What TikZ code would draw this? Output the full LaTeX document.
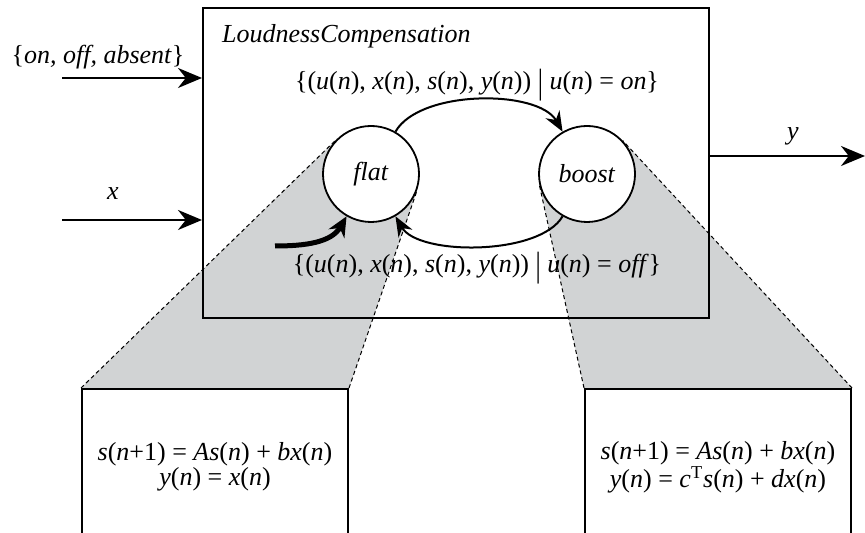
\documentclass[tikz,border=0pt]{standalone}
\usepackage{fontspec}
\setmainfont{Liberation Serif}
\usetikzlibrary{arrows.meta,calc,backgrounds}
\definecolor{wedge}{RGB}{209,211,212}
\newcommand{\iv}[1]{\textit{#1}}
\newcommand{\tallbar}{\raisebox{-0.3ex}{\scalebox{1}[1.35]{|}}}

\begin{document}
\begin{tikzpicture}[x=0.5pt,y=0.5pt,
  font=\fontsize{13}{11.5}\selectfont,
  state/.style={circle, draw=black, fill=white, line width=0.9pt, minimum size=48pt, inner sep=0pt},
  arr/.style={line width=1.2pt, -{Stealth[length=12pt,width=10pt]}},
  trans/.style={line width=1pt, -{Stealth[length=10pt,width=8pt]}},
  eqbox/.style={draw=black, fill=white, line width=1pt, minimum width=133pt, minimum height=78pt, align=center},
  zoomline/.style={line width=0.5pt, dash pattern=on 2pt off 1.5pt}]
\clip (0,0) rectangle (865,533);

% Actor
\node [draw, line width=1pt, minimum width=253pt, minimum height=155pt, inner sep=0pt] (comp) at (456,370) {};
\node [anchor=base west] (title) at (215,490) {\iv{LoudnessCompensation}};

% Estados
\node [state] (flat) at (371,359) {\iv{flat}};
\node [state] (boost) at (587,359) {\iv{boost}};

% Refinamientos
\node [eqbox] (lo) at (215,66) {\iv{s}(\iv{n}+1) = \iv{As}(\iv{n}) + \iv{bx}(\iv{n})\\ \iv{y}(\iv{n}) = \iv{x}(\iv{n})};
\node [eqbox] (ro) at (718,66) {\iv{s}(\iv{n}+1) = \iv{As}(\iv{n}) + \iv{bx}(\iv{n})\\ \iv{y}(\iv{n}) = \iv{c}\textsuperscript{T}\iv{s}(\iv{n}) + \iv{dx}(\iv{n})};

% Cuñas
\coordinate (fa) at (tangent cs:node=flat,point={(lo.north west)},solution=2);
\coordinate (fb) at (tangent cs:node=flat,point={(lo.north east)},solution=1);
\coordinate (ba) at (tangent cs:node=boost,point={(ro.north west)},solution=2);
\coordinate (bb) at (tangent cs:node=boost,point={(ro.north east)},solution=1);
\begin{scope}[on background layer]
\fill [wedge] (lo.north west) -- (fa) -- (flat.center) -- (fb) -- (lo.north east) -- cycle;
\fill [wedge] (ro.north west) -- (ba) -- (boost.center) -- (bb) -- (ro.north east) -- cycle;
\draw [zoomline] (lo.north west) -- (fa);
\draw [zoomline] (lo.north east) -- (fb);
\draw [zoomline] (ro.north west) -- (ba);
\draw [zoomline] (ro.north east) -- (bb);
\end{scope}

% Entradas y salida
\coordinate (uin) at (62,455);
\coordinate (xin) at (62,313);
\coordinate (yout) at (865,377);
\draw [arr] (uin) -- (uin -| comp.west);
\draw [arr] (xin) -- (xin -| comp.west);
\draw [arr] (comp.east |- yout) -- (yout);
\node [anchor=base] (ulab) at (98,469) {\{\iv{on, off, absent}\}};
\node [anchor=base] (xlab) at (113,333) {\iv{x}};
\node [anchor=base] (ylab) at (793,393) {\iv{y}};

% Transiciones
\draw [trans] (flat) to[out=60,in=120,looseness=0.75] (boost);
\draw [trans] (boost) to[out=-120,in=-60,looseness=0.7] (flat);
\node (onlab) at (477,448) {\{(\iv{u}(\iv{n}), \iv{x}(\iv{n}), \iv{s}(\iv{n}), \iv{y}(\iv{n})) \tallbar{} \iv{u}(\iv{n}) = \iv{on}\}};
\node (offlab) at (477,265) {\{(\iv{u}(\iv{n}), \iv{x}(\iv{n}), \iv{s}(\iv{n}), \iv{y}(\iv{n})) \tallbar{} \iv{u}(\iv{n}) = \iv{off}\}};

\coordinate (init) at (275,287);
\draw [line width=2.5pt, -{Stealth[length=10pt,width=9pt]}] (init) to[out=0,in=-120] (flat);
\end{tikzpicture}
\end{document}
